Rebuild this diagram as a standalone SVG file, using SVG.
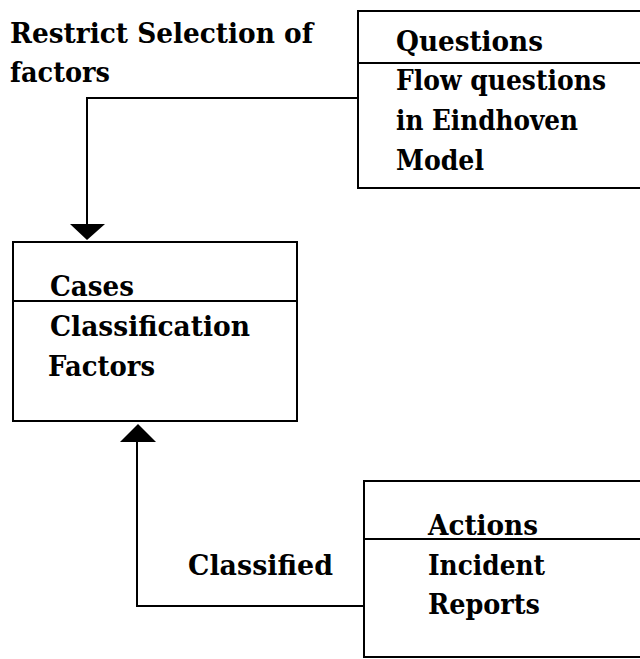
<svg xmlns="http://www.w3.org/2000/svg" width="640" height="659" viewBox="0 0 640 659">
  <style>
    .box { fill: #fff; stroke: #000; stroke-width: 2; }
    .rule { stroke: #000; stroke-width: 2; }
    .wire { fill: none; stroke: #000; stroke-width: 2; }
    .head { fill: #000; }
    .lbl { font-family: 'DejaVu Serif', 'Liberation Serif', serif; font-weight: 700; font-size: 28px; fill: #000; }
  </style>

  <text class="lbl" x="10" y="43" textLength="303" lengthAdjust="spacingAndGlyphs">Restrict Selection of</text>
  <text class="lbl" x="10" y="82" textLength="100" lengthAdjust="spacingAndGlyphs">factors</text>
  <text class="lbl" x="188" y="575" textLength="145" lengthAdjust="spacingAndGlyphs">Classified</text>

  <g id="connectors">
    <polyline class="wire" points="358,98 87,98 87,224"/>
    <path class="head" d="M70 224 L105 224 L87 240 Z"/>
    <polyline class="wire" points="364,606 137,606 137,440"/>
    <path class="head" d="M120 442 L156 442 L138 424 Z"/>
  </g>

  <g id="questions">
    <rect class="box" x="358" y="11" width="300" height="177"/>
    <line class="rule" x1="358" y1="63" x2="660" y2="63"/>
    <text class="lbl" x="396" y="51" textLength="147" lengthAdjust="spacingAndGlyphs">Questions</text>
    <text class="lbl" x="396" y="90" textLength="210" lengthAdjust="spacingAndGlyphs">Flow questions</text>
    <text class="lbl" x="396" y="130" textLength="182" lengthAdjust="spacingAndGlyphs">in Eindhoven</text>
    <text class="lbl" x="396" y="170" textLength="88" lengthAdjust="spacingAndGlyphs">Model</text>
  </g>

  <g id="cases">
    <rect class="box" x="13" y="242" width="284" height="179"/>
    <line class="rule" x1="13" y1="301" x2="297" y2="301"/>
    <text class="lbl" x="50" y="296" textLength="84" lengthAdjust="spacingAndGlyphs">Cases</text>
    <text class="lbl" x="50" y="336" textLength="200" lengthAdjust="spacingAndGlyphs">Classification</text>
    <text class="lbl" x="48" y="376" textLength="107" lengthAdjust="spacingAndGlyphs">Factors</text>
  </g>

  <g id="actions">
    <rect class="box" x="364" y="481" width="300" height="176"/>
    <line class="rule" x1="364" y1="539" x2="664" y2="539"/>
    <text class="lbl" x="428" y="535" textLength="110" lengthAdjust="spacingAndGlyphs">Actions</text>
    <text class="lbl" x="428" y="575" textLength="117" lengthAdjust="spacingAndGlyphs">Incident</text>
    <text class="lbl" x="428" y="614" textLength="112" lengthAdjust="spacingAndGlyphs">Reports</text>
  </g>
</svg>
